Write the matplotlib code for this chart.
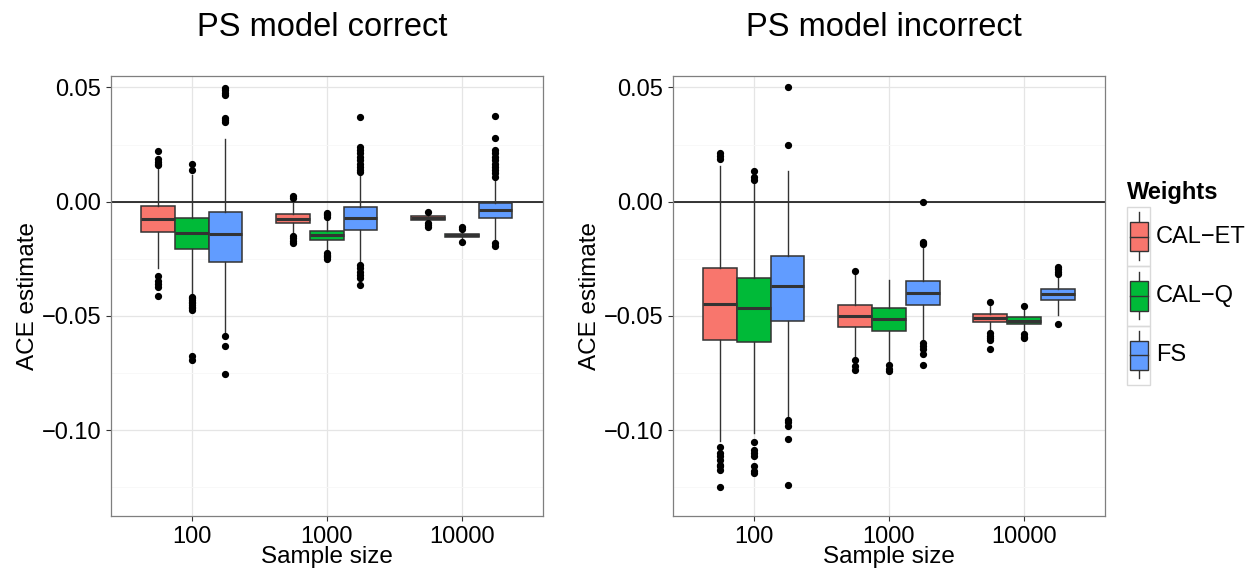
import matplotlib
matplotlib.use("Agg")
import matplotlib.pyplot as plt
from matplotlib.patches import Rectangle
from matplotlib.ticker import MultipleLocator

plt.rcParams['font.family'] = ['Liberation Sans', 'DejaVu Sans']

# categories
sizes = ["100", "1000", "10000"]
methods = ["CAL\u2212ET", "CAL\u2212Q", "FS"]
colors = ["#F8766D", "#00BA38", "#619CFF"]

# ---- PS model correct: [size][method] ----
correct_q1 = [[-0.0134, -0.0208, -0.0262],
              [-0.0093, -0.0167, -0.0124],
              [-0.0079, -0.0153, -0.0073]]
correct_med = [[-0.0077, -0.0138, -0.0143],
               [-0.0077, -0.0144, -0.0070],
               [-0.0071, -0.0147, -0.0038]]
correct_q3 = [[-0.0018, -0.0071, -0.0045],
              [-0.0054, -0.0127, -0.0025],
              [-0.0064, -0.0140, -0.0007]]
correct_lo = [[-0.0288, -0.0412, -0.0579],
              [-0.0140, -0.0218, -0.0269],
              [-0.0090, -0.0162, -0.0175]]
correct_hi = [[0.0146, 0.0117, 0.0274],
              [-0.0003, -0.0075, 0.0124],
              [-0.0054, -0.0128, 0.0095]]
correct_out = [
    [[0.0221, 0.0185, 0.0175, 0.0167, 0.0160, -0.0323, -0.0347, -0.0361, -0.0374, -0.0412],
     [0.0166, 0.0138, -0.0415, -0.0422, -0.0430, -0.0437, -0.0444, -0.0451, -0.0459,
      -0.0466, -0.0473, -0.0674, -0.0694],
     [0.0499, 0.0488, 0.0476, 0.0466, 0.0367, 0.0357, 0.0349, -0.0587, -0.0630, -0.0753]],
    [[0.0025, 0.0015, -0.0149, -0.0160, -0.0170, -0.0182],
     [-0.0051, -0.0055, -0.0060, -0.0066, -0.0226, -0.0232, -0.0238, -0.0244, -0.0250],
     [0.0370, 0.0240, 0.0226, 0.0211, 0.0197, 0.0182, 0.0167, 0.0153, 0.0138, 0.0130,
      -0.0277, -0.0291, -0.0306, -0.0320, -0.0335, -0.0364]],
    [[-0.0044, -0.0095, -0.0102, -0.0109],
     [-0.0109, -0.0119, -0.0176],
     [0.0374, 0.0278, 0.0226, 0.0211, 0.0197, 0.0182, 0.0167, 0.0153, 0.0138, 0.0124,
      0.0110, -0.0182, -0.0194]],
]

# ---- PS model incorrect: [size][method] ----
incorrect_q1 = [[-0.0604, -0.0614, -0.0521],
                [-0.0547, -0.0565, -0.0453],
                [-0.0526, -0.0536, -0.0430]]
incorrect_med = [[-0.0446, -0.0466, -0.0370],
                 [-0.0499, -0.0514, -0.0399],
                 [-0.0510, -0.0520, -0.0405]]
incorrect_q3 = [[-0.0290, -0.0333, -0.0239],
                [-0.0450, -0.0466, -0.0347],
                [-0.0492, -0.0505, -0.0381]]
incorrect_lo = [[-0.1048, -0.1012, -0.0951],
                [-0.0677, -0.0706, -0.0604],
                [-0.0568, -0.0568, -0.0495]]
incorrect_hi = [[0.0157, 0.0112, 0.0134],
                [-0.0313, -0.0342, -0.0197],
                [-0.0451, -0.0459, -0.0320]]
incorrect_out = [
    [[0.0211, 0.0199, 0.0189, -0.1075, -0.1100, -0.1114, -0.1129, -0.1150, -0.1158,
      -0.1172, -0.1249],
     [0.0134, 0.0109, 0.0095, -0.1053, -0.1085, -0.1100, -0.1114, -0.1155, -0.1180, -0.1187],
     [0.0501, 0.0248, -0.0957, -0.0965, -0.0983, -0.1038, -0.1238]],
    [[-0.0303, -0.0692, -0.0718, -0.0735],
     [-0.0713, -0.0730, -0.0740],
     [0.0000, -0.0178, -0.0182, -0.0186, -0.0619, -0.0631, -0.0646, -0.0665, -0.0716]],
    [[-0.0440, -0.0575, -0.0587, -0.0597, -0.0607, -0.0645],
     [-0.0457, -0.0578, -0.0590, -0.0597],
     [-0.0284, -0.0296, -0.0306, -0.0316, -0.0534]],
]

panels = [
    ("PS model correct", correct_q1, correct_med, correct_q3, correct_lo, correct_hi, correct_out),
    ("PS model incorrect", incorrect_q1, incorrect_med, incorrect_q3, incorrect_lo, incorrect_hi,
     incorrect_out),
]

W, H = 1255, 572
fig = plt.figure(figsize=(W / 100, H / 100), dpi=100)
rects = [[110.7 / W, 56 / H, 432 / W, 440 / H],
         [672.7 / W, 56 / H, 432.3 / W, 440 / H]]

edge = "#333333"
for rect, (title, q1, med, q3, lo, hi, out) in zip(rects, panels):
    ax = fig.add_axes(rect)
    ax.set_xlim(0.4, 3.6)
    ax.set_ylim(-0.1375, 0.055)
    ax.yaxis.set_major_locator(MultipleLocator(0.05))
    ax.yaxis.set_minor_locator(MultipleLocator(0.025))
    ax.grid(True, which="major", color="#E5E5E5", linewidth=0.9)
    ax.grid(True, which="minor", axis="y", color="#F7F7F7", linewidth=0.6)
    ax.set_axisbelow(True)
    ax.axhline(0, color="black", linewidth=1.1, zorder=1)

    for i in range(len(sizes)):
        for j in range(len(methods)):
            st = dict(med=med[i][j], q1=q1[i][j], q3=q3[i][j],
                      whislo=lo[i][j], whishi=hi[i][j], fliers=out[i][j])
            res = ax.bxp([st], positions=[i + 1 + (j - 1) * 0.25], widths=0.25,
                         patch_artist=True, showcaps=False, manage_ticks=False,
                         boxprops=dict(edgecolor=edge, linewidth=1.1),
                         medianprops=dict(color=edge, linewidth=2.2),
                         whiskerprops=dict(color=edge, linewidth=1.0),
                         flierprops=dict(marker="o", markerfacecolor="black",
                                         markeredgecolor="black", markersize=4.2))
            res["boxes"][0].set_facecolor(colors[j])

    ax.set_xticks(range(1, len(sizes) + 1))
    ax.set_xticklabels(sizes)
    ax.tick_params(which="major", length=3.8, width=0.8, color=edge,
                   labelsize=17, labelcolor="black", pad=3.2)
    ax.tick_params(which="minor", length=0)
    for s in ax.spines.values():
        s.set_color("#7F7F7F")
        s.set_linewidth(0.9)
    ax.set_xlabel("Sample size", fontsize=17.5, labelpad=-1)
    ax.set_ylabel("ACE estimate", fontsize=17.5, labelpad=2)
    ax.set_title(title, fontsize=23.5, pad=29, x=0.5 - 5 / 432)

# legend
lax = fig.add_axes([1127 / W, (H - 385) / H, 23 / W, 178 / H])
lax.set_xlim(0, 1)
lax.set_ylim(len(methods), 0)
lax.axis("off")
for k, (name, c) in enumerate(zip(methods, colors)):
    lax.add_patch(Rectangle((0, k), 1, 1, facecolor="none", edgecolor="#D9D9D9",
                            linewidth=1.0, clip_on=False))
    lax.plot([0.5, 0.5], [k + 0.09, k + 0.89], color=edge, linewidth=1.0, clip_on=False)
    lax.add_patch(Rectangle((0.11, k + 0.25), 0.79, 0.5, facecolor=c, edgecolor=edge,
                            linewidth=1.0, zorder=3, clip_on=False))
    lax.plot([0.11, 0.9], [k + 0.5, k + 0.5], color=edge, linewidth=1.0, zorder=4,
             clip_on=False)
    lax.text(1.25, k + 0.5, name, fontsize=17, va="center", ha="left", clip_on=False)
lax.text(0, -0.25, "Weights", fontsize=17, fontweight="bold", va="center", ha="left")

fig.savefig("out.png", dpi=100)
